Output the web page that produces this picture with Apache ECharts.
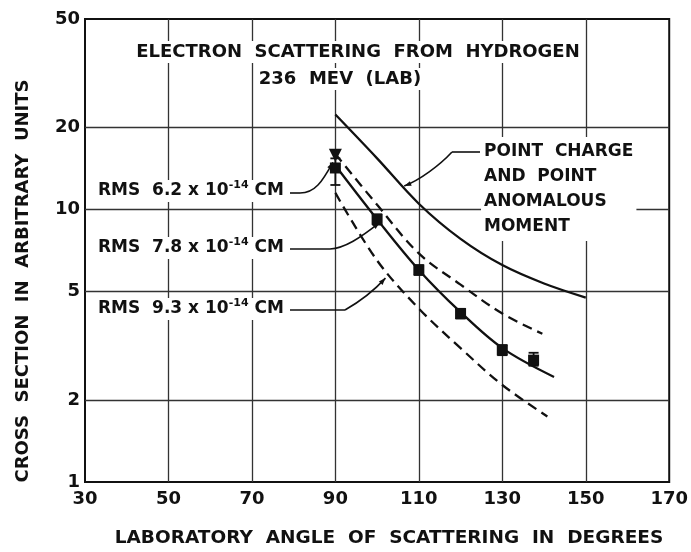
<!DOCTYPE html>
<html>
<head>
<meta charset="utf-8">
<script src="https://cdn.jsdelivr.net/npm/echarts@6/dist/echarts.min.js"></script>
<style>
  html, body { margin: 0; padding: 0; background: #fff; }
  #chart { width: 691px; height: 552px; }
</style>
</head>
<body>
<div id="chart"></div>
<script>
// Axis ticks and grid positions (laboratory angle in degrees, cross section in arbitrary units)
const xTicks = [30, 50, 70, 90, 110, 130, 150, 170];
const yTicks = [1, 2, 5, 10, 20, 50];
const xGridValues = [50, 70, 90, 110, 130, 150];
const yGridValues = [2, 5, 10, 20];

// Theoretical curves
const pointChargeX = [90, 100, 110, 120, 130, 140, 150];
const pointChargeY = [22.3, 15.4, 10.5, 7.8, 6.25, 5.35, 4.75];
const rms62X = [90, 100, 110, 120, 130, 139.6];
const rms62Y = [16.0, 10.4, 6.9, 5.3, 4.15, 3.5];
const rms78X = [90, 100, 110, 120, 130, 142.4];
const rms78Y = [14.5, 9.2, 6.0, 4.2, 3.1, 2.43];
const rms93X = [90, 100, 110, 120, 130, 140.8];
const rms93Y = [11.5, 6.5, 4.33, 3.1, 2.27, 1.74];

// Measured cross sections with error bars
const measX = [90, 100, 110, 120, 130, 137.5];
const measY = [14.2, 9.2, 6.0, 4.15, 3.05, 2.8];
const measLow = [12.3, 8.8, 5.75, 3.98, 2.92, 2.67];
const measHigh = [15.4, 9.6, 6.25, 4.32, 3.18, 2.98];
const triX = [90];
const triY = [15.8];

const INK = '#111';
const FONT = '"DejaVu Sans", sans-serif';
const WEIGHT = 'bold';
const SMOOTH = 0.35;

const zip = (xs, ys) => xs.map((x, i) => [x, ys[i]]);

const chart = echarts.init(document.getElementById('chart'), null, { renderer: 'canvas' });

const gridLines = xGridValues.map(v => ({ xAxis: v })).concat(yGridValues.map(v => ({ yAxis: v })));

chart.setOption({
  animation: false,
  backgroundColor: '#fff',
  grid: {
    left: 85, right: 21, top: 19, bottom: 70,
    show: true, borderColor: INK, borderWidth: 2, backgroundColor: 'transparent'
  },
  xAxis: {
    type: 'value', min: 30, max: 170,
    axisLine: { show: false },
    axisTick: { show: false },
    splitLine: { show: false },
    axisLabel: {
      customValues: xTicks, color: INK, fontSize: 18, fontFamily: FONT, fontWeight: WEIGHT, margin: 8
    }
  },
  yAxis: {
    type: 'log', logBase: 10, min: 1, max: 50,
    axisLine: { show: false },
    axisTick: { show: false },
    splitLine: { show: false },
    axisLabel: {
      customValues: yTicks, color: INK, fontSize: 18, fontFamily: FONT, fontWeight: WEIGHT, margin: 5
    }
  },
  series: [
    {
      name: 'Point charge', type: 'line', data: zip(pointChargeX, pointChargeY),
      smooth: SMOOTH, showSymbol: false, z: 3,
      lineStyle: { color: INK, width: 2.3 },
      markLine: {
        silent: true, symbol: 'none', z: 1,
        label: { show: false },
        lineStyle: { color: '#333', width: 1.3, type: 'solid' },
        emphasis: { disabled: true },
        data: gridLines
      }
    },
    {
      name: 'RMS 6.2', type: 'line', data: zip(rms62X, rms62Y),
      smooth: SMOOTH, showSymbol: false, z: 3,
      lineStyle: { color: INK, width: 2.3, type: [10, 6] }
    },
    {
      name: 'RMS 7.8', type: 'line', data: zip(rms78X, rms78Y),
      smooth: SMOOTH, showSymbol: false, z: 3,
      lineStyle: { color: INK, width: 2.3 }
    },
    {
      name: 'RMS 9.3', type: 'line', data: zip(rms93X, rms93Y),
      smooth: SMOOTH, showSymbol: false, z: 3,
      lineStyle: { color: INK, width: 2.3, type: [10, 6] }
    },
    {
      name: 'Error bars', type: 'custom', z: 4,
      data: measX.map((x, i) => [x, measLow[i], measHigh[i]]),
      encode: { x: 0, y: [1, 2] },
      renderItem: (params, api) => {
        const lo = api.coord([api.value(0), api.value(1)]);
        const hi = api.coord([api.value(0), api.value(2)]);
        const cap = 5;
        const st = { stroke: INK, lineWidth: 1.8 };
        return {
          type: 'group',
          children: [
            { type: 'line', shape: { x1: lo[0], y1: lo[1], x2: hi[0], y2: hi[1] }, style: st },
            { type: 'line', shape: { x1: lo[0] - cap, y1: lo[1], x2: lo[0] + cap, y2: lo[1] }, style: st },
            { type: 'line', shape: { x1: hi[0] - cap, y1: hi[1], x2: hi[0] + cap, y2: hi[1] }, style: st }
          ]
        };
      }
    },
    {
      name: 'Measured', type: 'scatter', data: zip(measX, measY), z: 5,
      symbol: 'rect', symbolSize: 11, itemStyle: { color: INK, opacity: 1 }
    },
    {
      name: 'Measured (triangle)', type: 'scatter', data: zip(triX, triY), z: 5,
      symbol: 'triangle', symbolRotate: 180, symbolSize: 13, itemStyle: { color: INK, opacity: 1 }
    }
  ]
});

// Annotations: text labels with white boxes, and leader lines ending on the curves
const toPx = (x, y) => chart.convertToPixel({ gridIndex: 0 }, [x, y]);

const textStyle = (extra) => Object.assign({
  fill: INK, fontSize: 18, fontFamily: FONT, fontWeight: WEIGHT, backgroundColor: '#fff', padding: [2, 3]
}, extra);

const rmsRich = {
  n: { fontSize: 17, fontFamily: FONT, fontWeight: WEIGHT, fill: INK, lineHeight: 22 },
  s: { fontSize: 11, fontFamily: FONT, fontWeight: WEIGHT, fill: INK, verticalAlign: 'top', lineHeight: 12 }
};

function rmsLabel(val, x, y) {
  return {
    type: 'text', z: 20, x: x, y: y,
    style: {
      text: '{n|RMS  ' + val + ' x 10}{s|-14}{n| CM}',
      rich: rmsRich, backgroundColor: '#fff', padding: [0, 2],
      verticalAlign: 'middle', align: 'left'
    }
  };
}

function arrowHead(from, to, len, half) {
  const dx = to[0] - from[0], dy = to[1] - from[1];
  const d = Math.hypot(dx, dy) || 1;
  const ux = dx / d, uy = dy / d;
  const bx = to[0] - ux * len, by = to[1] - uy * len;
  return {
    type: 'polygon', z: 21,
    shape: { points: [to, [bx - uy * half, by + ux * half], [bx + uy * half, by - ux * half]] },
    style: { fill: INK }
  };
}

function leader(start, mid, end, c1, c2) {
  return [
    { type: 'line', z: 21, shape: { x1: start[0], y1: start[1], x2: mid[0], y2: mid[1] },
      style: { stroke: INK, lineWidth: 1.6 } },
    { type: 'bezierCurve', z: 21,
      shape: { x1: mid[0], y1: mid[1], cpx1: c1[0], cpy1: c1[1], cpx2: c2[0], cpy2: c2[1], x2: end[0], y2: end[1] },
      style: { stroke: INK, lineWidth: 1.6, fill: null } },
    arrowHead(c2, end, 7, 2.5)
  ];
}

const e62 = toPx(89.4, 14.9);
const e78 = toPx(100.6, 8.95);
const e93 = toPx(102, 5.6);
const ePC = toPx(106.5, 12.2);

const graphics = [
  { type: 'text', z: 20, x: 358, y: 52,
    style: textStyle({ text: 'ELECTRON  SCATTERING  FROM  HYDROGEN', align: 'center', verticalAlign: 'middle' }) },
  { type: 'text', z: 20, x: 340, y: 79,
    style: textStyle({ text: '236  MEV  (LAB)', align: 'center', verticalAlign: 'middle' }) },
  rmsLabel('6.2', 96, 191),
  rmsLabel('7.8', 96, 248),
  rmsLabel('9.3', 96, 309),
  { type: 'text', z: 20, x: 481, y: 189,
    style: textStyle({ text: 'POINT  CHARGE\nAND  POINT\nANOMALOUS\nMOMENT', align: 'left', verticalAlign: 'middle', lineHeight: 25, fontSize: 17 }) },
  // axis titles
  { type: 'text', z: 20, x: 389, y: 538,
    style: { text: 'LABORATORY  ANGLE  OF  SCATTERING  IN  DEGREES', fill: INK, fontSize: 18.5, fontFamily: FONT, fontWeight: WEIGHT, align: 'center', verticalAlign: 'middle' } },
  { type: 'text', z: 20, x: 23, y: 281, rotation: Math.PI / 2,
    style: { text: 'CROSS  SECTION  IN  ARBITRARY  UNITS', fill: INK, fontSize: 18, fontFamily: FONT, fontWeight: WEIGHT, align: 'center', verticalAlign: 'middle' } }
];

graphics.push(...leader([290, 193], [300, 193], e62, [315, 193], [322, 182]));
graphics.push(...leader([290, 249], [330, 249], e78, [345, 248], [360, 238]));
graphics.push(...leader([290, 310], [345, 310], e93, [352, 306], [370, 295]));
graphics.push(...leader([480, 152], [452, 152], ePC, [440, 165], [420, 180]));

chart.setOption({ graphic: graphics });
</script>
</body>
</html>
